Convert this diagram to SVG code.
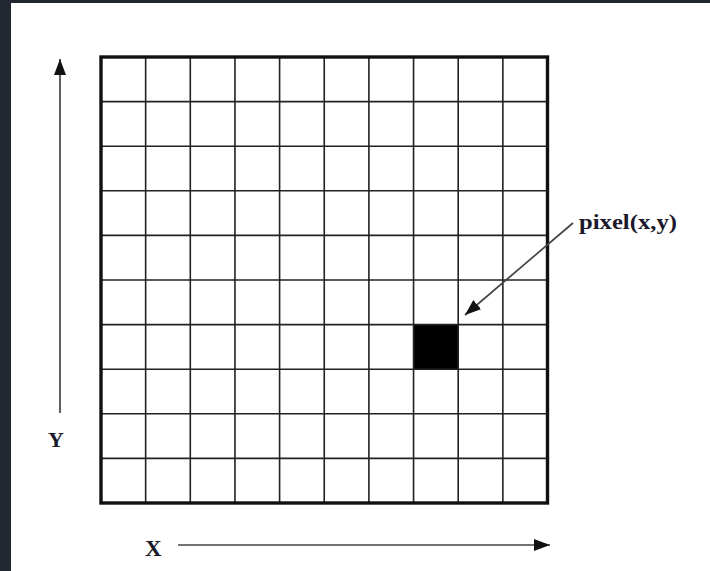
<svg xmlns="http://www.w3.org/2000/svg" width="710" height="571" viewBox="0 0 710 571">
<style>
.inner{stroke:#222;stroke-width:1.6;fill:none}
.outer{stroke:#111;stroke-width:3.4;fill:none}
.axis{stroke:#444;stroke-width:1.7;fill:none}
.lbl{font-family:"Liberation Serif","Times New Roman",serif;fill:#1a1a2a;font-weight:bold}
</style>
<defs>
<marker id="ahBig" viewBox="0 0 16 12" refX="16" refY="6" markerWidth="16" markerHeight="12" markerUnits="userSpaceOnUse" orient="auto">
<path d="M0,0 L16,6 L0,12 z" fill="#111"/>
</marker>
</defs>
<rect x="0" y="0" width="710" height="571" fill="#ffffff"/>
<rect x="0" y="0" width="710" height="3" fill="#23272f"/>
<rect x="0" y="0" width="11" height="571" fill="#23272f"/>
<g id="grid">
<rect x="413.5" y="324.6" width="44.65" height="44.6" fill="#000"/>
<path class="inner" d="M145.65,57V503M190.3,57V503M234.95,57V503M279.6,57V503M324.25,57V503M368.9,57V503M413.55,57V503M458.2,57V503M502.85,57V503M101,101.6H547.5M101,146.2H547.5M101,190.8H547.5M101,235.4H547.5M101,280H547.5M101,324.6H547.5M101,369.2H547.5M101,413.8H547.5M101,458.4H547.5"/>
<rect class="outer" x="101" y="57" width="446.5" height="446"/>
</g>
<g id="connectors">
<line class="axis" x1="60" y1="413" x2="60" y2="59" marker-end="url(#ahBig)"/>
<line class="axis" x1="178" y1="545" x2="550" y2="545" marker-end="url(#ahBig)"/>
<line class="axis" x1="573" y1="223" x2="465" y2="315" marker-end="url(#ahBig)"/>
</g>
<g id="labels">
<text class="lbl" x="48" y="447" font-size="22">Y</text>
<text class="lbl" x="145" y="556" font-size="23">X</text>
<text class="lbl" x="579" y="229" font-size="20" textLength="98" lengthAdjust="spacingAndGlyphs">pixel(x,y)</text>
</g>
</svg>
